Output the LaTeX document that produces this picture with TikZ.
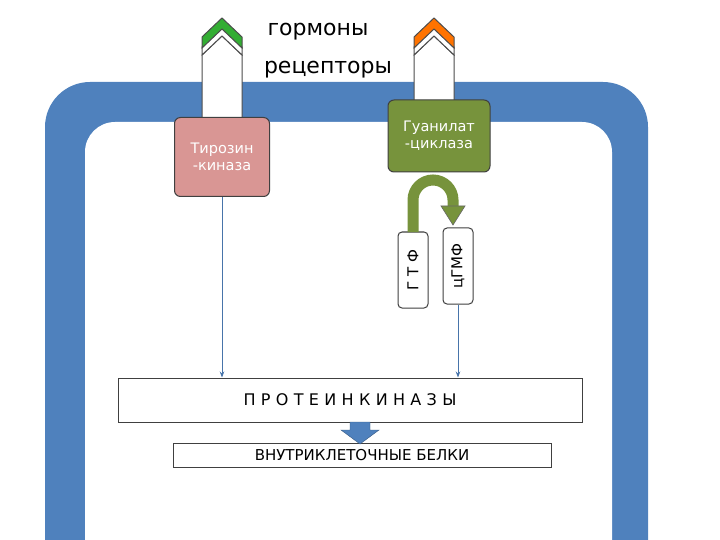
\documentclass[tikz,border=0pt]{standalone}
\usepackage{fontspec}
\setmainfont{DejaVu Sans}
\usetikzlibrary{arrows.meta}
\begin{document}
\begin{tikzpicture}[x=1pt,y=-1pt,
  rec/.style={draw=black!70,fill=white,line width=1pt},
  box/.style={draw=black!75,line width=1pt,rounded corners=6pt},
  conn/.style={draw=memb!90!black,-{Stealth[length=6pt]},line width=0.8pt}]
\useasboundingbox (0,0) rectangle (720,540);
\definecolor{memb}{HTML}{4F81BD}
% membrane
\fill[memb,rounded corners=45pt] (45,82) rectangle (648,600);
\fill[white,rounded corners=30pt] (85,122) rectangle (612,620);
% receptors
\foreach \x/\c in {222/green!60!black!80, 434/orange!90!red} {
  \draw[rec] (\x-20,120) -- (\x-20,55) -- (\x,36) -- (\x+20,55) -- (\x+20,120);
  \draw[rec] (\x-20,47) -- (\x,28) -- (\x+20,47) -- (\x+20,55) -- (\x,36) -- (\x-20,55) -- cycle;
  \draw[rec,fill=\c] (\x-20,37) -- (\x,18) -- (\x+20,37) -- (\x+20,48) -- (\x,29) -- (\x-20,48) -- cycle;
}
\node (horm) at (318,32) {\fontsize{22}{24}\selectfont гормоны};
\node (recp) at (328,70) {\fontsize{22}{24}\selectfont рецепторы};
% enzyme boxes
\node[box,fill={rgb,255:red,217;green,150;blue,148},minimum width=95pt,minimum height=79pt,text=white,align=center,font=\fontsize{14.5}{17}\selectfont] (tk) at (222,157) {Тирозин\\-киназа};
\node[box,fill={rgb,255:red,119;green,147;blue,60},minimum width=102pt,minimum height=72pt,text=white,align=center,font=\fontsize{14.5}{17}\selectfont] (gc) at (439,136) {Гуанилат\\-циклаза};
% GTF and cGMF
\node[box,fill=white,rounded corners=4pt,minimum width=76pt,minimum height=30pt,rotate=90,font=\fontsize{15}{16}\selectfont] (gtf) at (413,270) {Г Т Ф};
\node[box,fill=white,rounded corners=4pt,minimum width=76pt,minimum height=30pt,rotate=90,font=\fontsize{15}{16}\selectfont] (cgmf) at (458,266) {цГМФ};
% curved arrow
\definecolor{olv}{RGB}{119,147,60}
\draw[olv,line width=11pt] (413,232) -- (413,200) arc[start angle=180,end angle=360,radius=20] -- (453,207);
\fill[olv,draw=black!60,line width=0.6pt] (441,206) -- (465,206) -- (453,225) -- cycle;
% proteinkinase
\node[draw=black!75,line width=1pt,fill=white,minimum width=464pt,minimum height=44pt,font=\fontsize{16}{17}\selectfont] (pk) at (350,400) {П\,\,Р\,\,О\,\,Т\,\,Е\,\,И\,\,Н\,\,К\,\,И\,\,Н\,\,А\,\,З\,\,Ы};
\node[draw=black!75,line width=1pt,fill=white,minimum width=378pt,minimum height=24pt,font=\fontsize{15}{16}\selectfont] (bel) at (362,455) {ВНУТРИКЛЕТОЧНЫЕ БЕЛКИ};
\draw[conn] (tk.south) -- (tk.south |- pk.north);
\draw[conn] (cgmf.west) -- (cgmf.west |- pk.north);
% block arrow
\fill[memb,draw=memb!70!black] (350,422) -- (370,422) -- (370,430) -- (379,430) -- (360,444) -- (341,430) -- (350,430) -- cycle;
\end{tikzpicture}
\end{document}
